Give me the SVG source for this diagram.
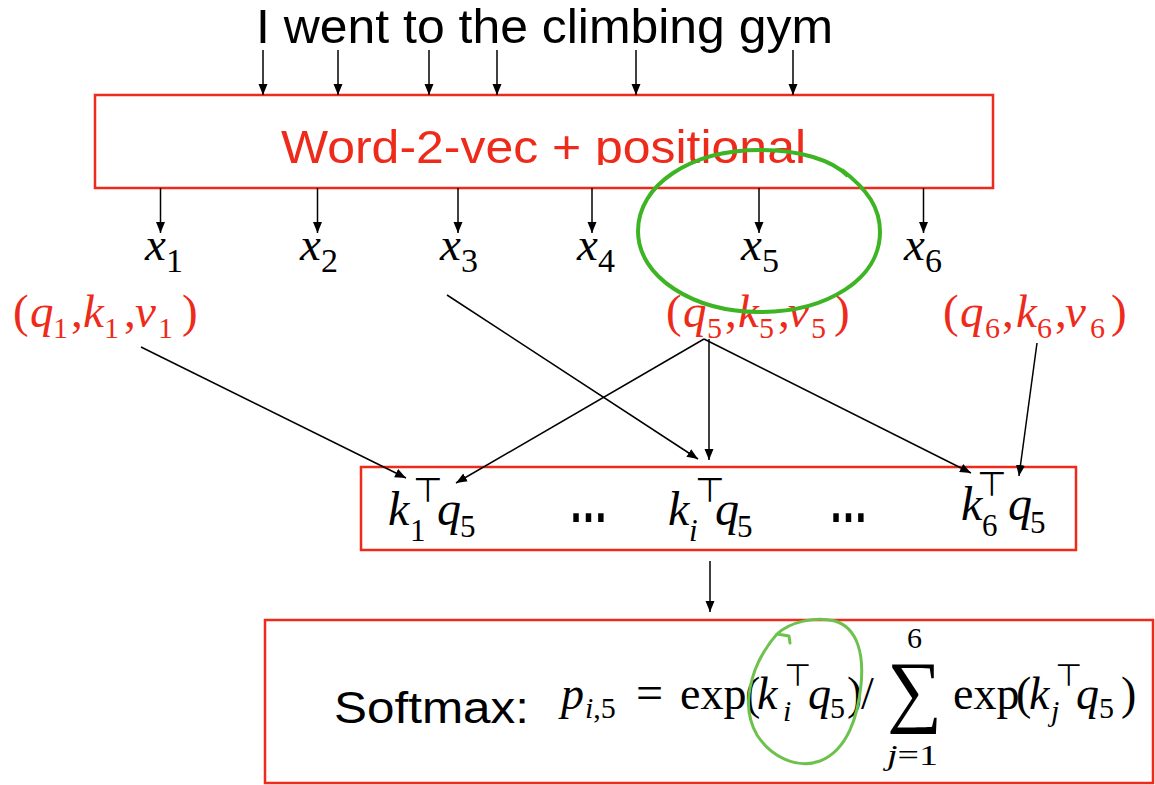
<svg xmlns="http://www.w3.org/2000/svg" width="1155" height="785" viewBox="0 0 1155 785">
<style>
.sans{font-family:"Liberation Sans",Arial,Helvetica,sans-serif}
.m{font-family:"Liberation Serif","Times New Roman",serif;font-style:italic}
.up{font-style:normal}
.red{fill:#ee2a1b}
.tee{font-family:"DejaVu Sans",sans-serif;font-style:normal}
.box{fill:none;stroke:#ee2a1b;stroke-width:2.5}
.ar{stroke:#000;stroke-width:1.5;fill:none;marker-end:url(#ah)}
.g1{fill:none;stroke:#3cb423;stroke-width:4}
.g2{fill:none;stroke:#6cc24c;stroke-width:3;stroke-linecap:round;stroke-linejoin:round}
</style>
<defs>
<marker id="ah" markerUnits="userSpaceOnUse" markerWidth="12" markerHeight="10" refX="11" refY="4.5" orient="auto">
<path d="M0,0 L11,4.5 L0,9 z" fill="#000"/>
</marker>
<clipPath id="clipw"><rect x="95" y="95" width="900" height="70"/></clipPath>
</defs>
<rect width="1155" height="785" fill="#fff"/>

<g id="sentence">
<text class="sans" x="256" y="43" font-size="49" textLength="577" lengthAdjust="spacingAndGlyphs">I went to the climbing gym</text>
</g>

<g id="embedding">
<rect class="box" x="95" y="95" width="898" height="93"/>
<text class="sans red" x="281" y="163" font-size="47" textLength="525" lengthAdjust="spacingAndGlyphs" clip-path="url(#clipw)">Word-2-vec + positional</text>
</g>

<g id="x-labels" class="m" font-size="47">
<text id="x1" x="145" y="260">x<tspan class="up" font-size="34" dy="12">1</tspan></text>
<text id="x2" x="300" y="260">x<tspan class="up" font-size="34" dy="12">2</tspan></text>
<text id="x3" x="440" y="260">x<tspan class="up" font-size="34" dy="12">3</tspan></text>
<text id="x4" x="577" y="260">x<tspan class="up" font-size="34" dy="12">4</tspan></text>
<text id="x5" x="741" y="260">x<tspan class="up" font-size="34" dy="12">5</tspan></text>
<text id="x6" x="904" y="260">x<tspan class="up" font-size="34" dy="12">6</tspan></text>
</g>

<g id="qkv1" class="m red" font-size="47">
<text x="13" y="327" class="up">(</text>
<text x="30" y="327">q</text><text x="53" y="338" class="up" font-size="30">1</text>
<text x="71" y="327" class="up">,</text>
<text x="83" y="327">k</text><text x="104" y="338" class="up" font-size="30">1</text>
<text x="124" y="327" class="up">,</text>
<text x="135" y="327">v</text><text x="158" y="338" class="up" font-size="30">1</text>
<text x="182" y="327" class="up">)</text>
</g>

<g id="qkv5" class="m red" font-size="47">
<text x="666" y="327" class="up">(</text>
<text x="683" y="327">q</text><text x="707" y="338" class="up" font-size="30">5</text>
<text x="725" y="327" class="up">,</text>
<text x="738" y="327">k</text><text x="759" y="338" class="up" font-size="30">5</text>
<text x="778" y="327" class="up">,</text>
<text x="788" y="327">v</text><text x="811" y="338" class="up" font-size="30">5</text>
<text x="834" y="327" class="up">)</text>
</g>

<g id="qkv6" class="m red" font-size="47">
<text x="943" y="327" class="up">(</text>
<text x="960" y="327">q</text><text x="985" y="338" class="up" font-size="30">6</text>
<text x="1002" y="327" class="up">,</text>
<text x="1016" y="327">k</text><text x="1037" y="338" class="up" font-size="30">6</text>
<text x="1055" y="327" class="up">,</text>
<text x="1065" y="327">v</text><text x="1090" y="338" class="up" font-size="30">6</text>
<text x="1111" y="327" class="up">)</text>
</g>

<g id="scores">
<rect class="box" x="361" y="467" width="715" height="83"/>
<g class="m" font-size="48">
<text x="388" y="525">k</text>
<text x="410" y="541" class="up" font-size="31">1</text>
<text x="413" y="502" class="tee" font-size="34">⊤</text>
<text x="437" y="525">q</text>
<text x="460" y="537" class="up" font-size="31">5</text>

<text class="sans up" x="569" y="522" font-size="60" font-weight="bold" textLength="39" lengthAdjust="spacingAndGlyphs">…</text>

<text x="668" y="525">k</text>
<text x="689" y="541" font-size="31">i</text>
<text x="695" y="502" class="tee" font-size="34">⊤</text>
<text x="715" y="525">q</text>
<text x="737" y="537" class="up" font-size="31">5</text>

<text class="sans up" x="829" y="522" font-size="60" font-weight="bold" textLength="39" lengthAdjust="spacingAndGlyphs">…</text>

<text x="961" y="520">k</text>
<text x="982" y="536" class="up" font-size="31">6</text>
<text x="977" y="496" class="tee" font-size="34">⊤</text>
<text x="1008" y="520">q</text>
<text x="1030" y="533" class="up" font-size="31">5</text>
</g>
</g>

<g id="softmax">
<rect class="box" x="265" y="620" width="888" height="163"/>
<text class="sans" x="334" y="723" font-size="45" textLength="195" lengthAdjust="spacingAndGlyphs">Softmax:</text>
<g class="m" font-size="46">
<text x="561" y="709">p</text>
<text x="585" y="718" font-size="30">i<tspan class="up">,5</tspan></text>
<text x="636" y="709" class="up" font-size="48">=</text>
<text x="680" y="709" class="up">exp</text>
<text x="745" y="709" class="up">(</text>
<text x="757" y="709">k</text>
<text x="783" y="721" font-size="30">i</text>
<text x="784" y="686" class="tee" font-size="31">⊤</text>
<text x="808" y="709">q</text>
<text x="830" y="718" class="up" font-size="30">5</text>
<text x="847" y="709" class="up">)</text>
<text x="861" y="709" class="up">/</text>
<text x="887" y="717" class="up" font-size="80" textLength="55" lengthAdjust="spacingAndGlyphs">∑</text>
<text x="907" y="648" class="up" font-size="30">6</text>
<text x="887" y="765" font-size="30" textLength="51" lengthAdjust="spacingAndGlyphs">j<tspan class="up">=1</tspan></text>
<text x="953" y="709" class="up">exp</text>
<text x="1016" y="709" class="up">(</text>
<text x="1029" y="709">k</text>
<text x="1051" y="721" font-size="30">j</text>
<text x="1055" y="686" class="tee" font-size="31">⊤</text>
<text x="1076" y="709">q</text>
<text x="1099" y="718" class="up" font-size="30">5</text>
<text x="1121" y="709" class="up">)</text>
</g>
</g>

<g id="connectors">
<line class="ar" x1="263" y1="50" x2="263" y2="95"/>
<line class="ar" x1="338" y1="50" x2="338" y2="95"/>
<line class="ar" x1="429" y1="50" x2="429" y2="95"/>
<line class="ar" x1="497" y1="50" x2="497" y2="95"/>
<line class="ar" x1="636" y1="50" x2="636" y2="95"/>
<line class="ar" x1="793" y1="50" x2="793" y2="95"/>

<line class="ar" x1="160.5" y1="188" x2="160.5" y2="233"/>
<line class="ar" x1="317.5" y1="188" x2="317.5" y2="233"/>
<line class="ar" x1="458" y1="188" x2="458" y2="233"/>
<line class="ar" x1="592" y1="188" x2="592" y2="233"/>
<line class="ar" x1="759" y1="188" x2="759" y2="233"/>
<line class="ar" x1="923.5" y1="188" x2="923.5" y2="233"/>

<line class="ar" x1="141" y1="347" x2="406" y2="478"/>
<line class="ar" x1="447" y1="295" x2="698" y2="459"/>
<line class="ar" x1="704" y1="339" x2="456" y2="483"/>
<line class="ar" x1="709" y1="339" x2="709" y2="460"/>
<line class="ar" x1="704" y1="339" x2="971" y2="473"/>
<line class="ar" x1="1037" y1="343" x2="1019" y2="476"/>
<line class="ar" x1="710" y1="561" x2="710" y2="612"/>
</g>

<g id="annotations">
<path class="g1" d="M848,176 C832,160 800,150 760,150 C690,150 638,185 638,231 C638,277 693,312 760,312 C827,312 880,279 880,232 C880,208 868,190 842,170"/>
<path class="g2" d="M777,634 C790,622 815,616 835,621 C858,628 864,655 861,685 C858,715 848,750 820,761 C795,770 770,755 757,735 C744,712 748,690 755,670 C762,652 770,642 777,634 M777,634 L789,636 L790,643"/>
</g>
</svg>
